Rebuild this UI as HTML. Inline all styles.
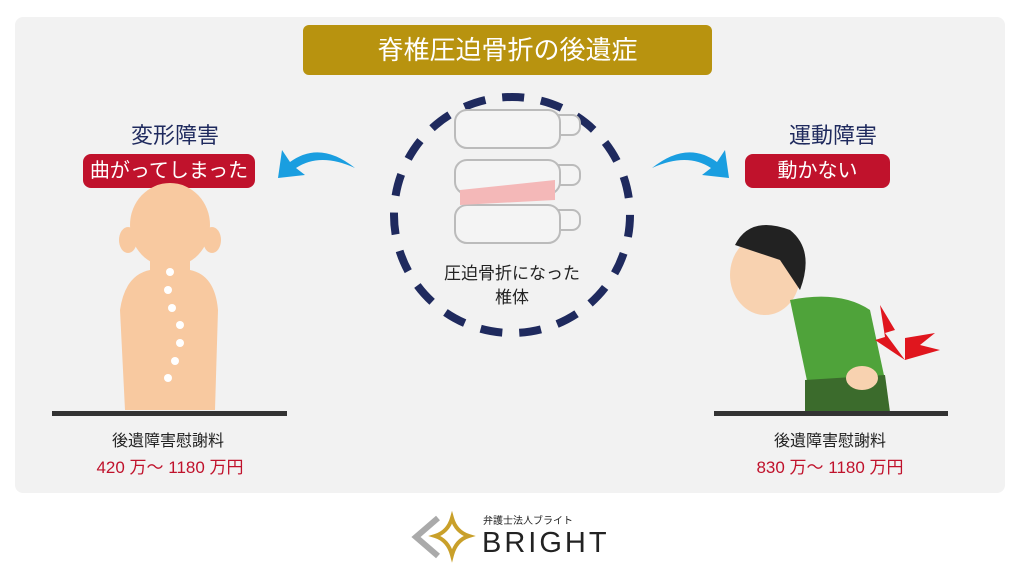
<!DOCTYPE html>
<html><head><meta charset="utf-8"><style>
body{margin:0;width:1024px;height:576px;background:#fff;position:relative;overflow:hidden;font-family:"Liberation Sans","Noto Sans CJK JP",sans-serif}
.a{position:absolute}
.c{text-align:center}
</style></head><body>
<div class="a" style="left:15px;top:17px;width:990px;height:476px;background:#f2f2f2;border-radius:8px"></div>
<div class="a c" style="left:303px;top:25px;width:409px;height:50px;background:#b8930f;border-radius:6px;color:#fff;font-size:26px;line-height:50px">脊椎圧迫骨折の後遺症</div>

<div class="a c" style="left:95px;top:118px;width:160px;color:#1f2a5e;font-size:22px">変形障害</div>
<div class="a c" style="left:83px;top:154px;width:172px;height:34px;background:#c0122c;border-radius:8px;color:#fff;font-size:20px;line-height:34px">曲がってしまった</div>
<div class="a c" style="left:753px;top:118px;width:160px;color:#1f2a5e;font-size:22px">運動障害</div>
<div class="a c" style="left:745px;top:154px;width:145px;height:34px;background:#c0122c;border-radius:8px;color:#fff;font-size:20px;line-height:34px">動かない</div>

<svg class="a" style="left:0;top:0" width="1024" height="576">
<path d="M355 168 Q320 140 290 162 L282 150 L278 178 L305 175 L296 168 Q320 152 355 168Z" fill="#1a9ee0"/>
<path d="M652 168 Q687 140 717 162 L725 150 L729 178 L702 175 L711 168 Q687 152 652 168Z" fill="#1a9ee0"/>
<circle cx="512" cy="215" r="118" fill="none" stroke="#1f2a5e" stroke-width="8" stroke-dasharray="22 17"/>
<g fill="#f4f4f4" stroke="#bbb" stroke-width="2">
<rect x="540" y="115" width="40" height="20" rx="8"/>
<rect x="540" y="165" width="40" height="20" rx="8"/>
<rect x="540" y="210" width="40" height="20" rx="8"/>
<rect x="455" y="110" width="105" height="38" rx="12"/>
<rect x="455" y="160" width="105" height="34" rx="12"/>
<rect x="455" y="205" width="105" height="38" rx="12"/>
</g>
<path d="M460 190 L555 180 L555 200 L460 205Z" fill="#f4b8b8"/>
<!-- left figure -->
<ellipse cx="128" cy="240" rx="9" ry="13" fill="#f8c9a0"/>
<ellipse cx="212" cy="240" rx="9" ry="13" fill="#f8c9a0"/>
<ellipse cx="170" cy="225" rx="40" ry="42" fill="#f8c9a0"/>
<path d="M120 310 Q125 275 150 270 L150 260 L190 260 L190 270 Q215 275 218 310 L215 410 L125 410Z" fill="#f8c9a0"/>
<g fill="#fff"><circle cx="170" cy="272" r="4"/><circle cx="168" cy="290" r="4"/><circle cx="172" cy="308" r="4"/><circle cx="180" cy="325" r="4"/><circle cx="180" cy="343" r="4"/><circle cx="175" cy="361" r="4"/><circle cx="168" cy="378" r="4"/></g>
<rect x="52" y="411" width="235" height="5" fill="#333"/>
<!-- right figure -->
<ellipse cx="765" cy="275" rx="35" ry="40" fill="#f8d2b0"/>
<path d="M735 245 Q750 215 790 230 Q815 250 800 290 L780 260Z" fill="#222"/>
<path d="M790 300 Q840 290 870 310 L885 380 L810 395 Z" fill="#4fa33a"/>
<path d="M805 380 L885 375 L890 412 L805 412Z" fill="#3b6b2c"/>
<ellipse cx="862" cy="378" rx="16" ry="12" fill="#f8d2b0"/>
<path d="M880 305 L895 330 L885 333 L905 360 L875 340 L885 337Z M905 338 L935 333 L920 345 L940 350 L905 360Z" fill="#e0161e"/>
<rect x="714" y="411" width="234" height="5" fill="#333"/>
<!-- logo -->
<path d="M438 518 L416 537 L438 556" fill="none" stroke="#aaa" stroke-width="6"/>
<path d="M452 518 Q456 532 469 536 Q456 540 452 555 Q448 540 435 536 Q448 532 452 518Z" fill="none" stroke="#c9a02a" stroke-width="4"/>
</svg>
<div class="a c" style="left:412px;top:262px;width:200px;font-size:17px;color:#222;line-height:24px">圧迫骨折になった<br>椎体</div>
<div class="a c" style="left:68px;top:427px;width:200px;font-size:16px;color:#222">後遺障害慰謝料</div>
<div class="a c" style="left:70px;top:453px;width:200px;font-size:17px;color:#c0122c">420 万～ 1180 万円</div>
<div class="a c" style="left:730px;top:427px;width:200px;font-size:16px;color:#222">後遺障害慰謝料</div>
<div class="a c" style="left:730px;top:453px;width:200px;font-size:17px;color:#c0122c">830 万～ 1180 万円</div>
<div class="a" style="left:483px;top:512px;font-size:10px;color:#222">弁護士法人ブライト</div>
<div class="a" style="left:482px;top:528px;font-size:29px;letter-spacing:3px;color:#222;line-height:30px">BRIGHT</div>
</body></html>
